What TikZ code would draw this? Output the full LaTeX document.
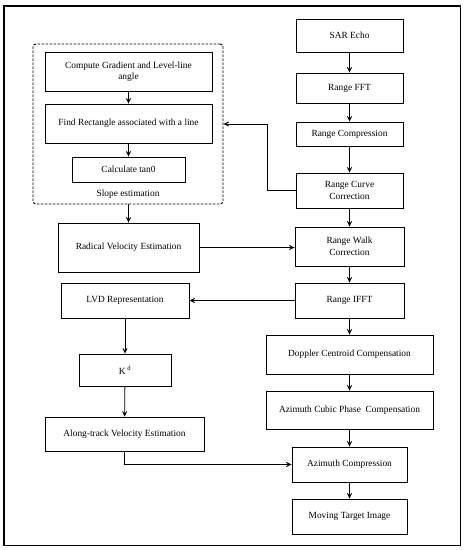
\documentclass[tikz,border=0pt]{standalone}
\usepackage{fontspec}
\setmainfont{Liberation Serif}
\usetikzlibrary{arrows.meta}
\begin{document}
\begin{tikzpicture}[x=1pt,y=-1pt,
  box/.style={draw,line width=0.9pt,inner sep=1pt,align=center,font=\fontsize{9.4}{11.5}\selectfont},
  arr/.style={line width=0.8pt,-{Stealth[length=9pt,width=8.5pt,inset=6.3pt]}},
  ln/.style={line width=0.8pt}]
\useasboundingbox (0,0) rectangle (466,550);
\draw[line width=1.1pt] (4,6) rectangle (460.5,545.5);
% right column
\node[box,minimum width=107pt,minimum height=33pt] (sar) at (349.5,35.5) {SAR Echo};
\node[box,minimum width=107pt,minimum height=30pt] (fft) at (349.5,88) {Range FFT};
\node[box,minimum width=107pt,minimum height=24pt] (rc) at (349.5,134) {Range Compression};
\node[box,minimum width=107pt,minimum height=35pt] (rcc) at (349.5,190.5) {Range Curve\\Correction};
\node[box,minimum width=109pt,minimum height=39pt] (rwc) at (349.5,246.5) {Range Walk\\Correction};
\node[box,minimum width=109pt,minimum height=35pt] (ifft) at (349.5,300.5) {Range IFFT};
\node[box,minimum width=167pt,minimum height=39pt] (dcc) at (349.5,354.5) {Doppler Centroid Compensation};
\node[box,minimum width=167pt,minimum height=38pt] (acp) at (349.5,410) {Azimuth Cubic Phase\ \ Compensation};
\node[box,minimum width=115pt,minimum height=35pt] (ac) at (349.5,464.5) {Azimuth Compression};
\node[box,minimum width=115pt,minimum height=35pt] (mti) at (349.5,516.5) {Moving Target Image};
% left column
\node[draw,dash pattern=on 2.5pt off 1.5pt,line width=0.9pt,rounded corners=3pt,minimum width=190pt,minimum height=160pt] (slope) at (128,124) {};
\node[box,minimum width=167pt,minimum height=39pt] (cg) at (128.5,71.5) {Compute Gradient and Level-line\\angle};
\node[box,minimum width=167pt,minimum height=39pt] (fr) at (128.5,123.5) {Find Rectangle associated with a line};
\node[box,minimum width=113pt,minimum height=25pt] (ct) at (128.5,169.5) {Calculate tan0};
\node[font=\fontsize{9.4}{11.5}\selectfont] (slbl) at (128,194) {Slope estimation};
\node[box,minimum width=141pt,minimum height=49pt] (rve) at (128.5,247.5) {Radical Velocity Estimation};
\node[box,minimum width=128pt,minimum height=35pt] (lvd) at (125,300.5) {LVD Representation};
\node[box,minimum width=92pt,minimum height=32pt] (kd) at (125,370) {K\,\textsuperscript{d}};
\node[box,minimum width=159pt,minimum height=34pt] (ate) at (124.5,434) {Along-track Velocity Estimation};
% arrows right column
\draw[arr] (sar) -- (fft);
\draw[arr] (fft) -- (rc);
\draw[arr] (rc) -- (rcc);
\draw[arr] (rcc) -- (rwc);
\draw[arr] (rwc) -- (ifft);
\draw[arr] (ifft) -- (dcc);
\draw[arr] (dcc) -- (acp);
\draw[arr] (acp) -- (ac);
\draw[arr] (ac) -- (mti);
% arrows left column
\draw[arr] (cg) -- (fr);
\draw[arr] (fr) -- (ct);
\draw[arr] (slope.south -| rve.north) -- (rve.north);
\draw[arr] (lvd) -- (kd);
\draw[arr] (kd) -- (ate);
% cross arrows
\coordinate (bend) at (267,190.5);
\draw[arr] (rcc.west) -- (bend) |- (slope.east);
\draw[arr] (rve.east) -- (rve.east -| rwc.west);
\draw[arr] (ifft.west) -- (lvd.east);
\draw[arr] (ate.south) |- (ac.west);
\end{tikzpicture}
\end{document}
